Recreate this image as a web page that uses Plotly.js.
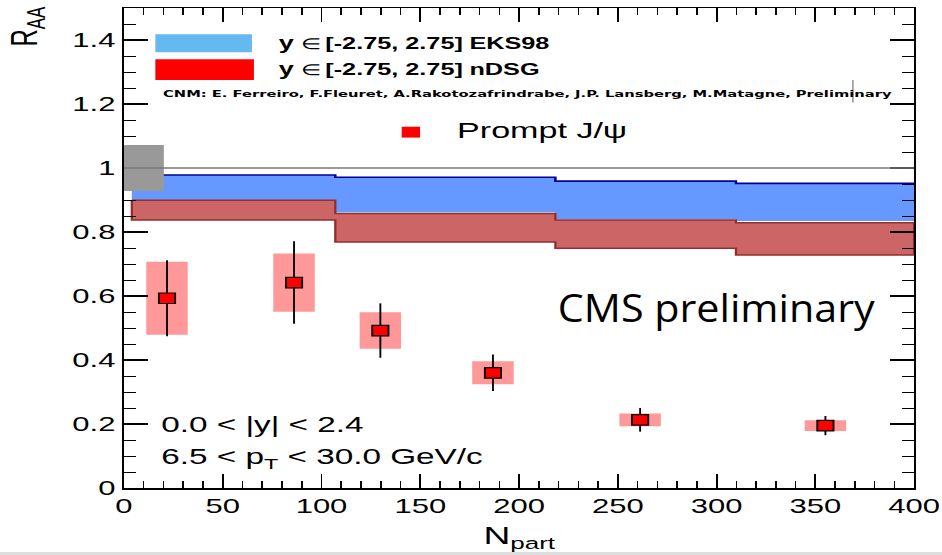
<!DOCTYPE html>
<html>
<head>
<meta charset="utf-8">
<script src="https://cdn.plot.ly/plotly-3.0.1.min.js"></script>
<style>
  html, body { margin: 0; padding: 0; background: #fff; overflow: hidden; }
  #chart { transform-origin: 0 0; }
</style>
</head>
<body>
<div id="chart"></div>
<script>
// Prompt J/psi nuclear modification factor vs number of participants
const npart    = [21.8, 86.1, 129.8, 186.8, 261.3, 355.1];
const raa      = [0.593, 0.642, 0.492, 0.360, 0.213, 0.195];
const statErr  = [0.119, 0.129, 0.085, 0.057, 0.037, 0.030];
const systErr  = [0.114, 0.091, 0.057, 0.036, 0.020, 0.017];
const globalUnc = 0.072;

// CNM model bands (step bins in Npart)
const binEdges  = [4, 107, 218.4, 309.8, 400];
const eksHigh   = [0.978, 0.971, 0.959, 0.952];
const eksLow    = [0.899, 0.862, 0.840, 0.834];
const ndsgHigh  = [0.899, 0.858, 0.8375, 0.829];
const ndsgLow   = [0.8375, 0.769, 0.749, 0.728];

const xTickVals = [0, 50, 100, 150, 200, 250, 300, 350, 400];
const yTickVals = [0, 0.2, 0.4, 0.6, 0.8, 1, 1.2, 1.4];

// the canvas is drawn narrow and stretched horizontally
const PAGE_W = 942, PLOT_W = 608, PAGE_H = 555;
const SX = PAGE_W / PLOT_W;
const chartDiv = document.getElementById('chart');
chartDiv.style.width = PLOT_W + 'px';
chartDiv.style.height = PAGE_H + 'px';
chartDiv.style.transform = 'scaleX(' + SX + ')';

const FONT = 'Liberation Sans, Arial, Helvetica, sans-serif';

function stepLine(edges, vals) {
  const x = [], y = [];
  for (let i = 0; i < vals.length; i++) {
    x.push(edges[i], edges[i + 1]);
    y.push(vals[i], vals[i]);
  }
  return { x, y };
}
function stepBand(edges, hi, lo) {
  const up = stepLine(edges, hi);
  const dn = stepLine(edges, lo);
  return {
    x: up.x.concat(dn.x.slice().reverse(), [up.x[0]]),
    y: up.y.concat(dn.y.slice().reverse(), [up.y[0]])
  };
}

const eksBand = stepBand(binEdges, eksHigh, eksLow);
const eksTop = stepLine(binEdges, eksHigh);
const ndsgBand = stepBand(binEdges, ndsgHigh, ndsgLow);

const traces = [
  { type: 'scatter', mode: 'lines', x: eksBand.x, y: eksBand.y, fill: 'toself',
    fillcolor: 'rgb(102,153,255)', line: { width: 0 }, hoverinfo: 'skip', showlegend: false },
  { type: 'scatter', mode: 'lines', x: eksTop.x, y: eksTop.y,
    line: { color: 'rgb(0,0,150)', width: 1.6 }, hoverinfo: 'skip', showlegend: false },
  { type: 'scatter', mode: 'lines', x: ndsgBand.x, y: ndsgBand.y, fill: 'toself',
    fillcolor: 'rgb(204,102,102)', line: { color: 'rgb(150,45,45)', width: 1.5 },
    hoverinfo: 'skip', showlegend: false },
  // systematic boxes
  { type: 'bar', x: npart, y: systErr.map(e => 2 * e), base: raa.map((v, i) => v - systErr[i]),
    width: 21, marker: { color: 'rgb(255,153,153)', line: { width: 0 } },
    hoverinfo: 'skip', showlegend: false },
  // data points with statistical errors
  { type: 'scatter', mode: 'markers', x: npart, y: raa,
    error_y: { type: 'data', array: statErr, color: '#000', thickness: 1.2, width: 0 },
    marker: { symbol: 'square', size: 10.5, color: '#ff0000', line: { color: '#000', width: 1.2 } },
    showlegend: false }
];

const shapes = [
  // global uncertainty box at unity
  { type: 'rect', xref: 'x', yref: 'y', x0: 0, x1: 20.2, y0: 1 - globalUnc, y1: 1 + globalUnc,
    fillcolor: 'rgb(153,153,153)', line: { width: 0 }, layer: 'above' },
  { type: 'line', xref: 'paper', yref: 'y', x0: 0, x1: 1, y0: 1, y1: 1,
    line: { color: 'rgb(120,120,120)', width: 1.5 }, layer: 'above' },
  // legend keys
  { type: 'rect', xref: 'x', yref: 'y', x0: 15.9, x1: 64.8, y0: 1.362, y1: 1.418,
    fillcolor: 'rgb(99,185,240)', line: { width: 0 }, layer: 'above' },
  { type: 'rect', xref: 'x', yref: 'y', x0: 15.9, x1: 65.8, y0: 1.275, y1: 1.340,
    fillcolor: '#ff0000', line: { width: 0 }, layer: 'above' },
  { type: 'rect', xref: 'x', yref: 'y', x0: 140.6, x1: 149.9, y0: 1.095, y1: 1.129,
    fillcolor: '#ff0000', line: { width: 0 }, layer: 'above' },
  { type: 'line', xref: 'x', yref: 'y', x0: 369, x1: 369, y0: 1.205, y1: 1.275,
    line: { color: 'rgb(150,150,150)', width: 1 }, layer: 'above' },
  // page strip at the bottom
  { type: 'rect', xref: 'paper', yref: 'paper', x0: -0.2, x1: 1.1, y0: -0.1396, y1: -0.1335,
    fillcolor: 'rgb(222,222,222)', line: { width: 0 }, layer: 'below' }
];

function txt(text, x, y, font) {
  return {
    text: text, x: x, y: y, xref: 'x', yref: 'y', xanchor: 'left', yanchor: 'middle',
    showarrow: false, borderpad: 0, font: font
  };
}
const plain = s => ({ family: FONT, size: s, color: '#000' });
const bold = s => ({ family: FONT, size: s, color: '#000', weight: 'bold' });

const annotations = [
  txt('y', 77.5, 1.390, bold(17.5)),
  txt('∈', 89.0, 1.388, plain(15)),
  txt('[-2.75, 2.75]', 100.8, 1.390, bold(16.3)),
  txt('EKS98', 173.8, 1.390, bold(16.3)),
  txt('y', 77.5, 1.309, bold(17.5)),
  txt('∈', 89.0, 1.307, plain(15)),
  txt('[-2.75, 2.75]', 100.8, 1.309, bold(16.3)),
  txt('nDSG', 173.8, 1.309, bold(16.3)),
  txt('CNM: E. Ferreiro, F.Fleuret, A.Rakotozafrindrabe, J.P. Lansberg, M.Matagne, Preliminary',
      19.2, 1.233, { family: 'DejaVu Sans, sans-serif', size: 9.5, color: '#000', weight: 'bold' }),
  txt('Prompt J/ψ', 167.5, 1.116, plain(22)),
  txt('0.0 &lt; |y| &lt; 2.4', 18.3, 0.197, plain(21.5)),
  txt('6.5 &lt; p<sub>T</sub> &lt; 30.0 GeV/c', 18.3, 0.092, plain(21.5)),
  txt('CMS preliminary', 218.5, 0.566, { family: 'Open Sans, Noto Sans, sans-serif', size: 38, color: '#000' }),
  { text: 'R<sub>AA</sub>', xref: 'paper', yref: 'paper', x: -0.122, y: 1.01,
    xanchor: 'center', yanchor: 'top', textangle: -90, showarrow: false,
    font: plain(24) },
  { text: 'N<sub>part</sub>', xref: 'paper', yref: 'paper', x: 0.5, y: -0.067,
    xanchor: 'center', yanchor: 'top', showarrow: false,
    font: plain(24) }
];

const layout = {
  width: PLOT_W, height: PAGE_H,
  margin: { l: 80, r: 18, t: 8, b: 67, pad: 0 },
  paper_bgcolor: '#fff', plot_bgcolor: '#fff',
  barmode: 'overlay',
  showlegend: false,
  xaxis: {
    range: [0, 400], tickvals: xTickVals, ticks: 'inside', ticklen: 14, tickwidth: 1.2,
    tickcolor: '#000', showline: true, linecolor: '#000', linewidth: 1.5, mirror: 'ticks',
    showgrid: false, zeroline: false,
    minor: { ticks: 'inside', ticklen: 7, dtick: 10, tickcolor: '#000', tickwidth: 1, showgrid: false },
    tickfont: plain(20)
  },
  yaxis: {
    range: [0, 1.5], tickvals: yTickVals, ticks: 'inside', ticklen: 15.5, tickwidth: 1.2,
    tickcolor: '#000', showline: true, linecolor: '#000', linewidth: 1.5, mirror: 'ticks',
    showgrid: false, zeroline: false,
    minor: { ticks: 'inside', ticklen: 7.7, dtick: 0.05, tickcolor: '#000', tickwidth: 1, showgrid: false },
    tickfont: plain(20)
  },
  shapes: shapes,
  annotations: annotations
};

// the overlaid "CMS preliminary" caption keeps a narrower aspect than the stretched canvas
const CAPTION_TEXT = 'CMS preliminary';
const CAPTION_PAGE_WIDTH = 317;

Plotly.newPlot(chartDiv, traces, layout, { displayModeBar: false, staticPlot: true }).then(function () {
  chartDiv.querySelectorAll('text.annotation-text').forEach(function (t) {
    if (t.textContent === CAPTION_TEXT) {
      const bb = t.getBBox();
      const k = (CAPTION_PAGE_WIDTH / SX) / bb.width;
      t.setAttribute('transform',
        'translate(' + bb.x + ',0) scale(' + k + ',1) translate(' + (-bb.x) + ',0)');
    }
  });
});
</script>
</body>
</html>
